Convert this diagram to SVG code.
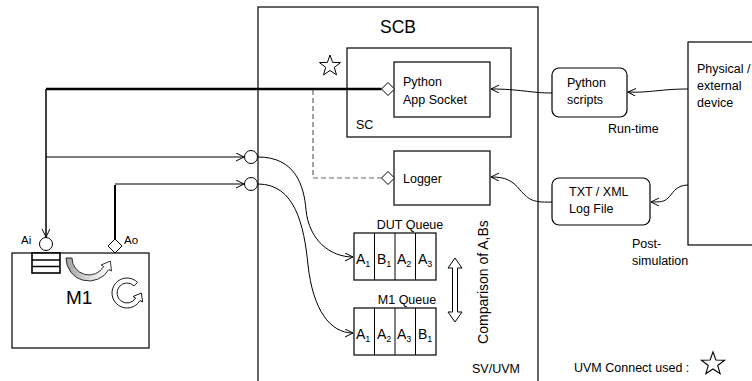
<svg xmlns="http://www.w3.org/2000/svg" width="752" height="381" viewBox="0 0 752 381">
<style>
text{font-family:"Liberation Sans",Arial,sans-serif;fill:#000}
.box{fill:#fff;stroke:#000;stroke-width:1.2}
.ln{fill:none;stroke:#000;stroke-width:1}
.t{font-size:12.5px}
.q{font-size:14px}
.s{font-size:9px}
</style>
<defs>
<marker id="arr" markerWidth="10" markerHeight="10" refX="8" refY="4" orient="auto" markerUnits="userSpaceOnUse">
<path d="M0,0 L8,4 L0,8" fill="none" stroke="#000" stroke-width="1"/>
</marker>
<path id="star" d="M0,-11 L2.6,-3.6 L10.5,-3.4 L4.3,1.4 L6.5,8.9 L0,4.5 L-6.5,8.9 L-4.3,1.4 L-10.5,-3.4 L-2.6,-3.6 Z" fill="#fff" stroke="#000" stroke-width="1"/>
<linearGradient id="gr" x1="0" y1="0" x2="1" y2="0">
<stop offset="0" stop-color="#a0a0a0"/>
<stop offset="0.55" stop-color="#e0e0e0"/>
<stop offset="1" stop-color="#fff"/>
</linearGradient>
</defs>

<g id="scb">
<rect class="box" x="258" y="7" width="280" height="385"/>
<text x="398" y="33" font-size="17.5" text-anchor="middle">SCB</text>
<text class="t" x="472" y="373">SV/UVM</text>
</g>

<g id="sc">
<rect class="box" x="347" y="48" width="164" height="89"/>
<text class="t" x="356" y="129">SC</text>
<use href="#star" x="330" y="66"/>
</g>

<g id="app-socket">
<rect class="box" x="394" y="62" width="96" height="55"/>
<text class="t" x="403" y="86">Python</text>
<text class="t" x="403" y="104">App Socket</text>
</g>

<g id="logger">
<rect class="box" x="394" y="151" width="96" height="54"/>
<text class="t" x="403" y="183">Logger</text>
</g>

<g id="python-scripts">
<rect class="box" x="552" y="68" width="75" height="49" rx="7"/>
<text class="t" x="567" y="87">Python</text>
<text class="t" x="567" y="104">scripts</text>
<text class="t" x="608" y="133">Run-time</text>
</g>

<g id="log-file">
<rect class="box" x="552" y="178" width="98" height="47" rx="7"/>
<text class="t" x="569" y="196">TXT / XML</text>
<text class="t" x="569" y="213">Log File</text>
<text class="t" x="632" y="248">Post-</text>
<text class="t" x="632" y="265">simulation</text>
</g>

<g id="physical">
<rect class="box" x="688" y="42" width="70" height="203"/>
<text class="t" x="697" y="73">Physical /</text>
<text class="t" x="697" y="90">external</text>
<text class="t" x="697" y="107">device</text>
</g>

<g id="dut-queue">
<text x="410" y="229" font-size="12.5" text-anchor="middle">DUT Queue</text>
<rect class="box" x="354" y="233" width="82" height="47"/>
<path class="ln" d="M374.5,233V280M395,233V280M415.5,233V280"/>
<text class="q" x="356" y="264">A<tspan class="s" dy="3">1</tspan></text>
<text class="q" x="377" y="264">B<tspan class="s" dy="3">1</tspan></text>
<text class="q" x="397" y="264">A<tspan class="s" dy="3">2</tspan></text>
<text class="q" x="418" y="264">A<tspan class="s" dy="3">3</tspan></text>
</g>

<g id="m1-queue">
<text x="407" y="304" font-size="12.5" text-anchor="middle">M1 Queue</text>
<rect class="box" x="354" y="308" width="82" height="47"/>
<path class="ln" d="M374.5,308V355M395,308V355M415.5,308V355"/>
<text class="q" x="356" y="339">A<tspan class="s" dy="3">1</tspan></text>
<text class="q" x="377" y="339">A<tspan class="s" dy="3">2</tspan></text>
<text class="q" x="397" y="339">A<tspan class="s" dy="3">3</tspan></text>
<text class="q" x="418" y="339">B<tspan class="s" dy="3">1</tspan></text>
</g>

<g id="comparison">
<path d="M455,258 L462,268 L457.5,268 L457.5,312 L462,312 L455,322 L448,312 L452.5,312 L452.5,268 L448,268 Z" fill="#fff" stroke="#000" stroke-width="1"/>
<text x="488" y="282" font-size="14" text-anchor="middle" transform="rotate(-90 488 282)">Comparison of A,Bs</text>
</g>

<g id="m1">
<rect class="box" x="12" y="253" width="137" height="95"/>
<rect x="32" y="253" width="28" height="20" fill="#fff" stroke="#000" stroke-width="1.6"/>
<path d="M32,260H60M32,266.5H60" stroke="#000" stroke-width="1.6"/>
<path d="M66,258 A23,23 0 0 0 108.9,269.5 L111.5,271 L110.3,261 L101.1,265 L103.7,266.5 A17,17 0 0 1 72,258 Z" fill="url(#gr)" stroke="#000" stroke-width="0.8"/>
<path d="M137.6,282.4 A15,15 0 1 0 140,300.5 L142.6,302 L141.3,293 L133.1,296.5 L135.7,298 A10,10 0 1 1 134.1,285.9 Z" fill="#fff" stroke="#000" stroke-width="0.9"/>
<text x="66" y="304" font-size="19">M1</text>
<circle cx="46" cy="244" r="6.5" fill="#fff" stroke="#000"/>
<text x="21" y="244" font-size="11.5">Ai</text>
<path d="M115,239 L122,246 L115,253 L108,246 Z" fill="#fff" stroke="#000"/>
<text x="124" y="244" font-size="11.5">Ao</text>
</g>

<g id="ports">
<circle cx="251" cy="157" r="6.5" fill="#fff" stroke="#000"/>
<circle cx="251" cy="184" r="6.5" fill="#fff" stroke="#000"/>
<path d="M381.5,89 L388,82.5 L394.5,89 L388,95.5 Z" fill="#fff" stroke="#000"/>
<path d="M381.5,178 L388,171.5 L394.5,178 L388,184.5 Z" fill="#fff" stroke="#000"/>
</g>

<g id="connectors">
<path d="M46,89 H381.5" fill="none" stroke="#000" stroke-width="2.5"/>
<path d="M46,89 V237" fill="none" stroke="#000" stroke-width="1.5" marker-end="url(#arr)"/>
<path class="ln" d="M46,157 H244" marker-end="url(#arr)"/>
<path d="M115,239 V185" fill="none" stroke="#000" stroke-width="2"/>
<path class="ln" d="M115,184 H244" marker-end="url(#arr)"/>
<path d="M313,90 V178 H381.5" fill="none" stroke="#666" stroke-width="1.2" stroke-dasharray="5,3"/>
<path class="ln" d="M258,157 C295,157 304,185 306,210 C309,240 330,257 353,257" marker-end="url(#arr)"/>
<path class="ln" d="M258,184 C295,184 304,225 308,265 C313,310 330,333 353,333" marker-end="url(#arr)"/>
<path class="ln" d="M688,89 C660,89 650,93 628,92" marker-end="url(#arr)"/>
<path class="ln" d="M552,93 C530,93 520,89 491,89" marker-end="url(#arr)"/>
<path class="ln" d="M688,185 C675,185 672,195 668,198 C664,202 660,202 651,202" marker-end="url(#arr)"/>
<path class="ln" d="M552,202 C530,203 528,198 520,190 C512,180 505,177 491,177" marker-end="url(#arr)"/>
</g>

<g id="legend">
<text x="574" y="372" font-size="12.5">UVM Connect used :</text>
<use href="#star" transform="translate(713 364) scale(1.1)"/>
</g>
</svg>
